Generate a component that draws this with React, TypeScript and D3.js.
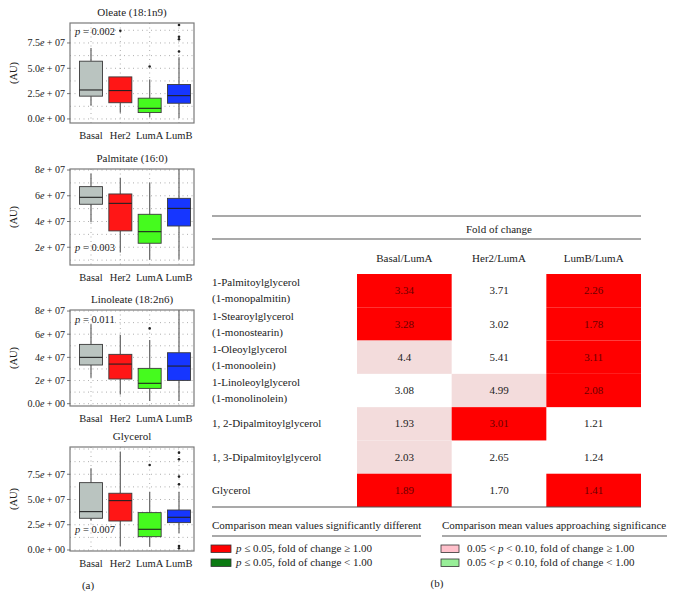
import React from "react";
import * as d3 from "d3";

const groups = ["Basal", "Her2", "LumA", "LumB"];
const groupColors = ["#bac4c0", "#ff1616", "#45fb1e", "#1636ff"];

// box stats per group: [lower whisker, q1, median, q3, upper whisker] (x 1e6)
const oleateStats = [
  [13, 22.5, 28.6, 57, 70],
  [6, 16, 28, 41.5, 41.5],
  [1.7, 6.3, 10.5, 20.5, 39],
  [1, 15.5, 23, 34, 61],
];
const oleateOutliers = [[], [87], [51.7], [66.6, 78.7, 81.2, 92.8]];

const palmitateStats = [
  [39.4, 53.4, 58.8, 67.1, 77.4],
  [16, 32.7, 54.1, 61.4, 74],
  [10.2, 23.1, 32.1, 45.6, 70.4],
  [10.7, 36.5, 50.2, 58, 82],
];
const palmitateOutliers = [[], [], [], []];

const linoleateStats = [
  [22.4, 33.4, 40, 51.2, 68.5],
  [8, 21.3, 34.2, 42.6, 59.3],
  [2.3, 13.2, 17.6, 30.5, 55],
  [2.3, 20.1, 32.5, 44, 82],
];
const linoleateOutliers = [[], [], [65], []];

const glycerolStats = [
  [29, 31.4, 38, 66.7, 81],
  [4, 28.7, 48.9, 56.2, 97.4],
  [3.3, 13.2, 20.5, 37, 57.8],
  [16.5, 27.1, 32.4, 39.6, 57.8],
];
const glycerolOutliers = [[], [], [84.2], [1.7, 4, 65, 72.7, 89.8, 96.4]];

const oleateTicks = [0, 25, 50, 75];
const oleateTickLabels = ["0.0", "2.5", "5.0", "7.5"];
const oleateMinor = [12.5, 37.5, 62.5, 87.5];
const palmitateTicks = [20, 40, 60, 80];
const palmitateTickLabels = ["2", "4", "6", "8"];
const palmitateMinor = [10, 30, 50, 70];
const linoleateTicks = [0, 20, 40, 60, 80];
const linoleateTickLabels = ["0.0", "2", "4", "6", "8"];
const linoleateMinor = [10, 30, 50, 70];
const glycerolTicks = [0, 25, 50, 75, 100];
const glycerolTickLabels = ["0.0", "2.5", "5.0", "7.5", ""];
const glycerolMinor = [12.5, 37.5, 62.5, 87.5];

const panels = [
  { title: "Oleate (18:1n9)", stats: oleateStats, outliers: oleateOutliers, ticks: oleateTicks, tickLabels: oleateTickLabels, minor: oleateMinor, domain: [-4, 94.7], top: 23, bottom: 123, p: "0.002", pY: 86 },
  { title: "Palmitate (16:0)", stats: palmitateStats, outliers: palmitateOutliers, ticks: palmitateTicks, tickLabels: palmitateTickLabels, minor: palmitateMinor, domain: [6.2, 80.8], top: 169, bottom: 265, p: "0.003", pY: 20 },
  { title: "Linoleate (18:2n6)", stats: linoleateStats, outliers: linoleateOutliers, ticks: linoleateTicks, tickLabels: linoleateTickLabels, minor: linoleateMinor, domain: [-2, 80.9], top: 310, bottom: 406, p: "0.011", pY: 73 },
  { title: "Glycerol", stats: glycerolStats, outliers: glycerolOutliers, ticks: glycerolTicks, tickLabels: glycerolTickLabels, minor: glycerolMinor, domain: [-1, 102], top: 447, bottom: 551, p: "0.007", pY: 20 },
];

// table
const rowLabels = [
  ["1-Palmitoylglycerol", "(1-monopalmitin)"],
  ["1-Stearoylglycerol", "(1-monostearin)"],
  ["1-Oleoylglycerol", "(1-monoolein)"],
  ["1-Linoleoylglycerol", "(1-monolinolein)"],
  ["1, 2-Dipalmitoylglycerol"],
  ["1, 3-Dipalmitoylglycerol"],
  ["Glycerol"],
];
const columns = ["Basal/LumA", "Her2/LumA", "LumB/LumA"];
const foldBasal = ["3.34", "3.28", "4.4", "3.08", "1.93", "2.03", "1.89"];
const foldHer2 = ["3.71", "3.02", "5.41", "4.99", "3.01", "2.65", "1.70"];
const foldLumB = ["2.26", "1.78", "3.11", "2.08", "1.21", "1.24", "1.41"];
// s = p <= 0.05, a = approaching significance
const sigBasal = ["s", "s", "a", "", "a", "a", "s"];
const sigHer2 = ["", "", "", "a", "s", "", ""];
const sigLumB = ["s", "s", "s", "s", "", "", "s"];

const legendLeft = ["p ≤ 0.05, fold of change ≥ 1.00", "p ≤ 0.05, fold of change < 1.00"];
const legendLeftColors = ["#ff0000", "#0b7a12"];
const legendRight = ["0.05 < p < 0.10, fold of change ≥ 1.00", "0.05 < p < 0.10, fold of change < 1.00"];
const legendRightColors = ["#ffc0cb", "#98ee98"];

const font = "'Liberation Serif', 'Times New Roman', serif";
const W = 673;
const H = 606;

function BoxPanel({ panel }) {
  const left = 70;
  const right = 194;
  const y = d3.scaleLinear(panel.domain, [panel.bottom, panel.top]);
  const x = d3.scalePoint(groups, [left + 21, right - 15]);
  const bw = 23;
  const clampY = (v) => Math.max(panel.top, Math.min(panel.bottom, y(v)));
  const gridStyle = { stroke: "#9a9a9a", strokeWidth: 0.8, strokeDasharray: "1,3.5" };
  return (
    <g>
      <text x={(left + right) / 2} y={panel.top - 7} textAnchor="middle" fontSize={11} fill="#222">{panel.title}</text>
      {[...panel.ticks, ...panel.minor].filter(v => y(v) > panel.top + 1 && y(v) < panel.bottom - 1).map((v, i) => (
        <line key={"h" + i} x1={left} x2={right} y1={y(v)} y2={y(v)} {...gridStyle} />
      ))}
      {groups.map(g => (
        <line key={"v" + g} x1={x(g)} x2={x(g)} y1={panel.top} y2={panel.bottom} {...gridStyle} />
      ))}
      {panel.stats.map((s, i) => {
        const cx = x(groups[i]);
        return (
          <g key={i}>
            <line x1={cx} x2={cx} y1={clampY(s[0])} y2={y(s[1])} stroke="#6e6e6e" strokeWidth={1.3} />
            <line x1={cx} x2={cx} y1={y(s[3])} y2={clampY(s[4])} stroke="#6e6e6e" strokeWidth={1.3} />
            <rect x={cx - bw / 2} width={bw} y={y(s[3])} height={y(s[1]) - y(s[3])} fill={groupColors[i]} stroke="#3a3a3a" strokeWidth={0.9} />
            <line x1={cx - bw / 2} x2={cx + bw / 2} y1={y(s[2])} y2={y(s[2])} stroke="#222" strokeWidth={1.1} />
            {panel.outliers[i].map((o, j) => (
              <circle key={j} cx={cx} cy={y(o)} r={1.3} fill="#222" />
            ))}
          </g>
        );
      })}
      <rect x={left} y={panel.top} width={right - left} height={panel.bottom - panel.top} fill="none" stroke="#7a7a7a" strokeWidth={1.2} />
      {panel.ticks.map((v, i) => panel.tickLabels[i] === "" ? null : (
        <g key={"t" + i}>
          <line x1={left - 3} x2={left} y1={y(v)} y2={y(v)} stroke="#555" strokeWidth={0.8} />
          <text x={left - 5} y={y(v)} dy="0.33em" textAnchor="end" fontSize={10} fill="#222">
            {panel.tickLabels[i]}<tspan fontStyle="italic">e</tspan>{" + " + (panel.tickLabels[i] === "0.0" ? "00" : "07")}
          </text>
        </g>
      ))}
      {groups.map(g => (
        <text key={"x" + g} x={x(g)} y={panel.bottom + 16} textAnchor="middle" fontSize={10.5} fill="#222">{g}</text>
      ))}
      <text transform={`translate(17,${(panel.top + panel.bottom) / 2}) rotate(-90)`} textAnchor="middle" fontSize={10.5} fill="#222">(AU)</text>
      <text x={left + 5} y={y(panel.pY)} dy="0.33em" fontSize={10.5} fill="#222">
        <tspan fontStyle="italic">p</tspan> = {panel.p}
      </text>
    </g>
  );
}

function FoldTable() {
  const tLeft = 212;
  const tRight = 641;
  const col = d3.scaleBand(columns, [357, tRight]);
  const row = d3.scaleBand(d3.range(rowLabels.length), [274, 507]);
  const folds = [foldBasal, foldHer2, foldLumB];
  const sigs = [sigBasal, sigHer2, sigLumB];
  const cellColor = { s: "#ff0000", a: "#f3dcdc", "": "none" };
  const lineStyle = { stroke: "#555", strokeWidth: 1.1 };
  return (
    <g fontSize={11} fill="#222">
      <line x1={tLeft} x2={tRight} y1={216} y2={216} {...lineStyle} />
      <text x={(357 + tRight) / 2} y={229} dy="0.33em" textAnchor="middle">Fold of change</text>
      <line x1={tLeft} x2={tRight} y1={239} y2={239} {...lineStyle} />
      {columns.map(c => (
        <text key={c} x={col(c) + col.bandwidth() / 2} y={258} dy="0.33em" textAnchor="middle">{c}</text>
      ))}
      {rowLabels.map((lab, r) => {
        const cy = row(r) + row.bandwidth() / 2;
        return (
          <g key={r}>
            {lab.map((l, k) => (
              <text key={k} x={tLeft} y={cy + (k - (lab.length - 1) / 2) * 16} dy="0.33em">{l}</text>
            ))}
            {columns.map((c, ci) => (
              <g key={c}>
                <rect x={col(c)} y={row(r)} width={col.bandwidth()} height={row.bandwidth()} fill={cellColor[sigs[ci][r]]} />
                <text x={col(c) + col.bandwidth() / 2} y={cy} dy="0.33em" textAnchor="middle" fill={sigs[ci][r] === "s" ? "#6a0000" : "#222"}>{folds[ci][r]}</text>
              </g>
            ))}
          </g>
        );
      })}
      <line x1={tLeft} x2={tRight} y1={507} y2={507} {...lineStyle} />
    </g>
  );
}

function Legend() {
  const item = (label, color, sx, sw, tx, yy, key) => {
    const parts = label.split("p");
    return (
      <g key={key}>
        <rect x={sx} y={yy - 3.5} width={sw} height={7.5} fill={color} stroke="#333" strokeWidth={0.8} />
        <text x={tx} y={yy} dy="0.33em">
          {parts[0]}<tspan fontStyle="italic">p</tspan>{parts.slice(1).join("p")}
        </text>
      </g>
    );
  };
  return (
    <g fontSize={11} fill="#222">
      <text x={212} y={525} dy="0.33em">Comparison mean values significantly different</text>
      <line x1={212} x2={421} y1={536} y2={536} stroke="#555" strokeWidth={1.1} />
      <text x={442} y={525} dy="0.33em">Comparison mean values approaching significance</text>
      <line x1={442} x2={667} y1={536} y2={536} stroke="#555" strokeWidth={1.1} />
      {legendLeft.map((l, i) => item(l, legendLeftColors[i], 211, 20, 236, 548.5 + i * 14, "l" + i))}
      {legendRight.map((l, i) => item(l, legendRightColors[i], 441, 18, 467, 548.5 + i * 14, "r" + i))}
    </g>
  );
}

export default function App() {
  return (
    <svg width={W} height={H} viewBox={`0 0 ${W} ${H}`} style={{ position: "absolute", left: 0, top: 0, background: "#fff" }} fontFamily={font}>
      <rect width={W} height={H} fill="#fff" />
      {panels.map((p, i) => <BoxPanel key={i} panel={p} />)}
      <FoldTable />
      <Legend />
      <text x={88} y={585} dy="0.33em" textAnchor="middle" fontSize={11} fill="#222">(a)</text>
      <text x={437} y={583} dy="0.33em" textAnchor="middle" fontSize={11} fill="#222">(b)</text>
    </svg>
  );
}
